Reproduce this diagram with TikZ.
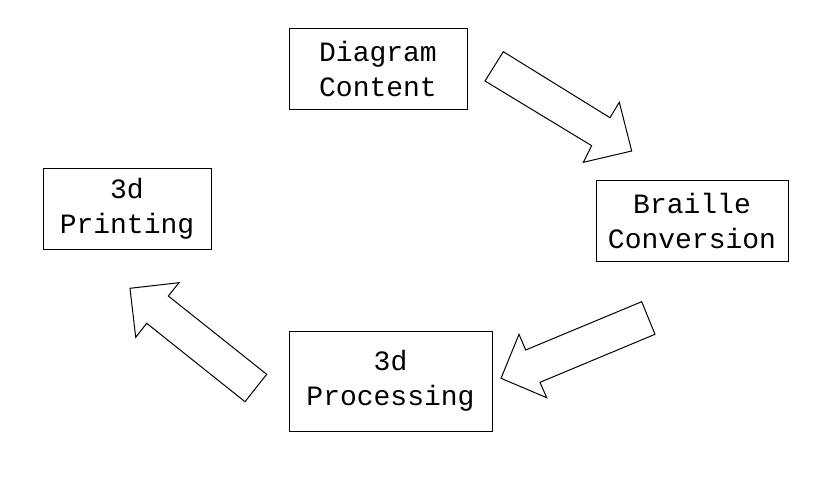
\documentclass[tikz,border=0pt]{standalone}
\usepackage{fontspec}
\setmainfont{Liberation Mono}
\begin{document}
\begin{tikzpicture}[x=1pt,y=-1pt,
  box/.style={draw,line width=0.9pt,inner sep=0pt,align=center,
    font=\fontsize{28}{35}\selectfont},
  blockarrow/.style={draw,line width=1pt,line join=miter,fill=white}]
\useasboundingbox (0,0) rectangle (829,486);
\node[box,minimum width=178pt,minimum height=81pt] (content) at (378,68.5) {Diagram\\Content};
\node[box,minimum width=192pt,minimum height=81pt] (braille) at (692,220.5) {Braille\\Conversion};
\node[box,minimum width=203pt,minimum height=100pt] (process) at (390.5,381) {3d\\Processing};
\node[box,minimum width=168pt,minimum height=81pt] (print) at (127,208.5) {3d\\Printing};
% block arrows
\draw[blockarrow] (503.3,51.7) -- (485,81) -- (591.7,145.7) -- (583.3,162.3)
  -- (631.7,151) -- (619.3,102.3) -- (610,117.7) -- cycle;
\draw[blockarrow] (641.7,301.7) -- (655,334.3) -- (540,382.3) -- (546.7,397.7)
  -- (501,378.3) -- (519,334.3) -- (525.7,350) -- cycle;
\draw[blockarrow] (266.7,374.3) -- (245,401.7) -- (146.7,323.3) -- (135.7,337.3)
  -- (130,288.3) -- (179,282.7) -- (168.3,296) -- cycle;
\end{tikzpicture}
\end{document}
